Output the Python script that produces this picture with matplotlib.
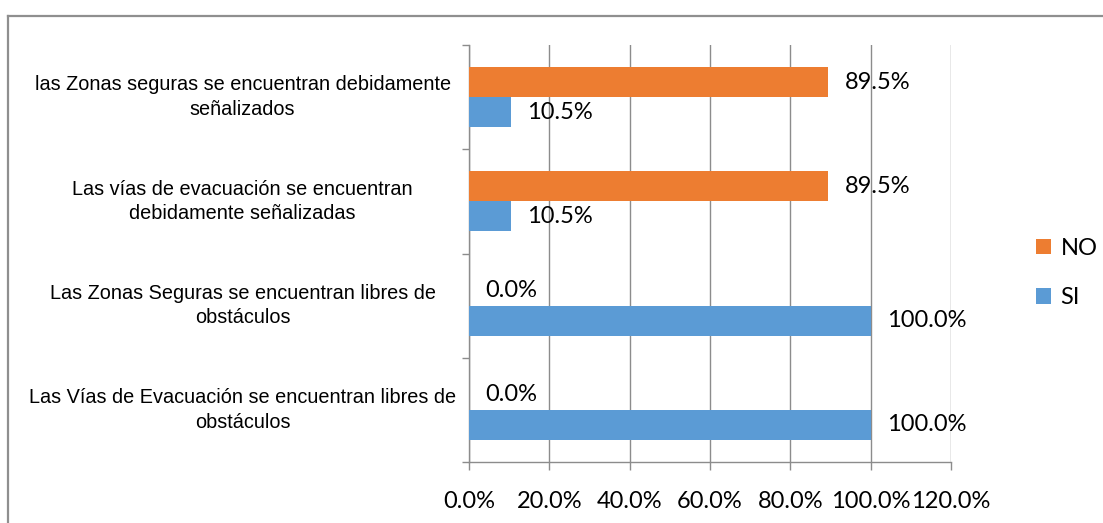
import matplotlib
matplotlib.use("Agg")
import matplotlib.pyplot as plt
import matplotlib.ticker as ticker
from matplotlib.lines import Line2D
import numpy as np

categories = [
    "las Zonas seguras se encuentran debidamente\nseñalizados",
    "Las vías de evacuación se encuentran\ndebidamente señalizadas",
    "Las Zonas Seguras se encuentran libres de\nobstáculos",
    "Las Vías de Evacuación se encuentran libres de\nobstáculos",
]
si_values = [10.5, 10.5, 100.0, 100.0]
no_values = [89.5, 89.5, 0.0, 0.0]
x_ticks = [0, 20, 40, 60, 80, 100, 120]

blue = "#5B9BD5"
orange = "#ED7D31"
grid_gray = "#8c8c8c"
num_font = ["Lato", "DejaVu Sans"]
label_font = ["Liberation Sans Narrow", "Liberation Sans", "DejaVu Sans"]

fig = plt.figure(figsize=(11.03, 5.23), dpi=100)
ax = fig.add_axes([469 / 1103, 1 - 462 / 523, (951 - 469) / 1103, (462 - 45) / 523])

n = len(categories)
y = np.arange(n)[::-1]  # first category at top
h = 0.287

bars_no = ax.barh(y + h / 2, no_values, height=h, color=orange, label="NO", zorder=3)
bars_si = ax.barh(y - h / 2, si_values, height=h, color=blue, label="SI", zorder=3)

for bars, vals in ((bars_no, no_values), (bars_si, si_values)):
    for b, v in zip(bars, vals):
        ax.annotate(f"{v:.1f}%", (b.get_width(), b.get_y() + b.get_height() / 2),
                    xytext=(11.5, 0), textcoords="offset points",
                    ha="left", va="center", fontsize=17, family=num_font, zorder=4)

ax.set_xlim(0, 120)
ax.set_ylim(-0.5, n - 0.5)
ax.set_xticks(x_ticks)
ax.xaxis.set_major_formatter(ticker.FuncFormatter(lambda v, p: f"{v:.1f}%"))
ax.grid(axis="x", color=grid_gray, linewidth=1, zorder=0)

ax.set_yticks(y)
ax.set_yticklabels(categories, fontsize=14.3, family=label_font, ha="center",
                   va="top", linespacing=1.35)
ax.tick_params(axis="y", length=0, pad=163)
for t in ax.get_yticklabels():
    t.set_verticalalignment("center")
ax.set_yticks(np.arange(n + 1) - 0.5, minor=True)
ax.tick_params(axis="y", which="minor", length=5, color=grid_gray, width=1)
ax.tick_params(axis="x", length=6, color=grid_gray, width=1, pad=15)
for t in ax.get_xticklabels():
    t.set_fontsize(17)
    t.set_family(num_font)

for s in ("top", "right"):
    ax.spines[s].set_visible(False)
for s in ("left", "bottom"):
    ax.spines[s].set_color(grid_gray)
    ax.spines[s].set_linewidth(1)

handles = [bars_no, bars_si]
fig.legend(handles, ["NO", "SI"], loc="center left",
           bbox_to_anchor=(1024 / 1103, 1 - 273 / 523), frameon=False,
           prop={"family": num_font, "size": 17},
           handlelength=0.65, handleheight=0.65, handletextpad=0.4,
           labelspacing=1.2, borderpad=0)

# chart area border (runs off the right and bottom of the image)
x0 = 8 / 1103
y0 = 1 - 16 / 523
fig.add_artist(Line2D([x0, 1.0], [y0, y0], transform=fig.transFigure,
                      color="#8f8f8f", linewidth=1.6))
fig.add_artist(Line2D([x0, x0], [0.0, y0], transform=fig.transFigure,
                      color="#8f8f8f", linewidth=1.6))

fig.savefig("out.png", dpi=100)
